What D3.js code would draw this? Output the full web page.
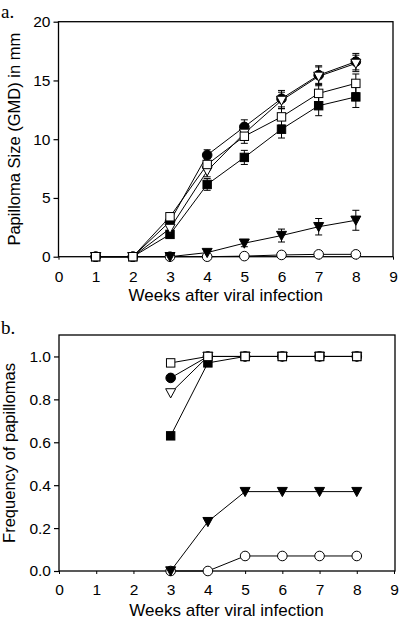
<!DOCTYPE html>
<html><head><meta charset="utf-8">
<script src="https://cdn.jsdelivr.net/npm/d3@7"></script>
<style>body{margin:0;background:#fff}svg{display:block}</style>
</head><body>
<script>
const weeks = [1,2,3,4,5,6,7,8];
const weeksB = [3,4,5,6,7,8];
// Panel a: papilloma size (GMD, mm)
const sizeOpenCircle   = [0,0,0,0,0.05,0.15,0.2,0.2];
const sizeFilledTri    = [0,0,0,0.35,1.15,1.8,2.55,3.1];
const sizeFilledCircle = [0,0,3.0,8.65,11.05,13.45,15.45,16.6];
const sizeFilledSquare = [0,0,1.9,6.15,8.45,10.85,12.85,13.6];
const sizeOpenTri      = [0,0,2.4,7.3,10.5,13.3,15.35,16.45];
const sizeOpenSquare   = [0,0,3.4,7.85,10.25,11.9,13.9,14.75];
const errOpenCircle   = [0,0,0,0,0,0.05,0.05,0.05];
const errFilledTri    = [0,0,0,0.1,0.3,0.55,0.7,0.85];
const errFilledCircle = [0,0,0.3,0.45,0.6,0.7,0.8,0.7];
const errFilledSquare = [0,0,0.3,0.5,0.6,0.75,0.85,0.9];
const errOpenTri      = [0,0,0.3,0.5,0.6,0.7,0.8,0.7];
const errOpenSquare   = [0,0,0.3,0.5,0.6,0.7,0.85,0.8];
// Panel b: frequency of papillomas
const freqOpenCircle   = [0,0,0.07,0.07,0.07,0.07];
const freqFilledTri    = [0,0.23,0.37,0.37,0.37,0.37];
const freqFilledCircle = [0.90,1,1,1,1,1];
const freqFilledSquare = [0.63,0.97,1,1,1,1];
const freqOpenTri      = [0.83,1,1,1,1,1];
const freqOpenSquare   = [0.97,1,1,1,1,1];
const xTicks = [0,1,2,3,4,5,6,7,8,9];
const yTicksA = [0,5,10,15,20];
const yTicksB = [0,0.2,0.4,0.6,0.8,1.0];

const W=400,H=619;
const svg=d3.select("body").append("svg").attr("width",W).attr("height",H);
const font="'Liberation Sans', Arial, sans-serif";

const seriesA=[
 {shape:"circle",fill:"#fff",v:sizeOpenCircle,e:errOpenCircle},
 {shape:"tri",fill:"#000",v:sizeFilledTri,e:errFilledTri},
 {shape:"circle",fill:"#000",v:sizeFilledCircle,e:errFilledCircle},
 {shape:"square",fill:"#000",v:sizeFilledSquare,e:errFilledSquare},
 {shape:"tri",fill:"#fff",v:sizeOpenTri,e:errOpenTri},
 {shape:"square",fill:"#fff",v:sizeOpenSquare,e:errOpenSquare}
];
const seriesB=[
 {shape:"circle",fill:"#fff",v:freqOpenCircle},
 {shape:"tri",fill:"#000",v:freqFilledTri},
 {shape:"circle",fill:"#000",v:freqFilledCircle},
 {shape:"square",fill:"#000",v:freqFilledSquare},
 {shape:"tri",fill:"#fff",v:freqOpenTri},
 {shape:"square",fill:"#fff",v:freqOpenSquare}
];

function marker(g,shape,fill,x,y){
  if(shape==="circle") g.append("circle").attr("cx",x).attr("cy",y).attr("r",4.8).attr("fill",fill).attr("stroke","#000").attr("stroke-width",1);
  else if(shape==="square") g.append("rect").attr("x",x-4.2).attr("y",y-4.2).attr("width",8.4).attr("height",8.4).attr("fill",fill).attr("stroke","#000").attr("stroke-width",1);
  else g.append("path").attr("d",`M${x-5},${y-4.2} L${x+5},${y-4.2} L${x},${y+5} Z`).attr("fill",fill).attr("stroke","#000").attr("stroke-width",1);
}

function panel(cfg){
  const {x,y,yTicks,fmt,series,xs,ylabel,letter,letterY,tickY,labelY,ylabX,right,top}=cfg;
  const g=svg.append("g");
  g.append("rect").attr("x",x.range()[0]).attr("y",top).attr("width",right-x.range()[0]).attr("height",y(0)-top)
   .attr("fill","none").attr("stroke","#000").attr("stroke-width",1.3);
  const ya=g.append("g").attr("transform",`translate(${x.range()[0]},0)`)
    .call(d3.axisLeft(y).tickValues(yTicks).tickFormat(fmt).tickSize(5).tickPadding(3));
  ya.select(".domain").remove();
  ya.selectAll("line").attr("stroke-width",1.2);
  ya.selectAll("text").attr("font-family",font).attr("font-size",15.5).attr("fill","#000");
  const xa=g.append("g").attr("transform",`translate(0,${y(0)})`)
    .call(d3.axisBottom(x).tickValues(xTicks).tickFormat(d3.format("d")).tickSize(3).tickPadding(0));
  xa.select(".domain").remove();
  xa.selectAll("text").attr("font-family",font).attr("font-size",15.5).attr("fill","#000")
    .attr("dy",null).attr("y",tickY-y(0));
  g.append("text").attr("x",(x.range()[0]+x.range()[1])/2).attr("y",labelY).attr("text-anchor","middle")
    .attr("font-family",font).attr("font-size",17).text("Weeks after viral infection");
  g.append("text").attr("transform",`translate(${ylabX},${(y(0)+top)/2}) rotate(-90)`).attr("text-anchor","middle")
    .attr("font-family",font).attr("font-size",16.5).text(ylabel);
  g.append("text").attr("x",1).attr("y",letterY).attr("font-family","'Liberation Serif','Times New Roman',serif")
    .attr("font-size",19).text(letter);
  const line=d3.line().x(d=>x(d[0])).y(d=>y(d[1]));
  series.forEach(s=>{
    const pts=xs.map((w,i)=>[w,s.v[i]]);
    g.append("path").attr("d",line(pts)).attr("fill","none").attr("stroke","#000").attr("stroke-width",1);
    if(s.e){
      xs.forEach((w,i)=>{
        const e=s.e[i]; if(!e) return;
        const cx=x(w), y1=y(s.v[i]+e), y2=y(Math.max(0,s.v[i]-e));
        g.append("line").attr("x1",cx).attr("x2",cx).attr("y1",y1).attr("y2",y2).attr("stroke","#000").attr("stroke-width",1);
        [y1,y2].forEach(yy=>g.append("line").attr("x1",cx-3.5).attr("x2",cx+3.5).attr("y1",yy).attr("y2",yy).attr("stroke","#000").attr("stroke-width",1));
      });
    }
  });
  series.forEach(s=>{
    xs.forEach((w,i)=>marker(g,s.shape,s.fill,x(w),y(s.v[i])));
  });
}

panel({
  x:d3.scaleLinear([0,9],[58.5,393]),
  y:d3.scaleLinear([0,20],[256.7,21.7]),
  yTicks:yTicksA, fmt:d3.format("d"), series:seriesA, xs:weeks,
  ylabel:"Papilloma Size (GMD) in mm", letter:"a.", letterY:18, tickY:282, labelY:301, ylabX:20, right:393, top:21.7
});
panel({
  x:d3.scaleLinear([0,9],[59,394]),
  y:d3.scaleLinear([0,1.1],[571,335]),
  yTicks:yTicksB, fmt:d3.format(".1f"), series:seriesB, xs:weeksB,
  ylabel:"Frequency of papillomas", letter:"b.", letterY:334, tickY:595, labelY:616, ylabX:15, right:395, top:335
});
</script>
</body></html>
